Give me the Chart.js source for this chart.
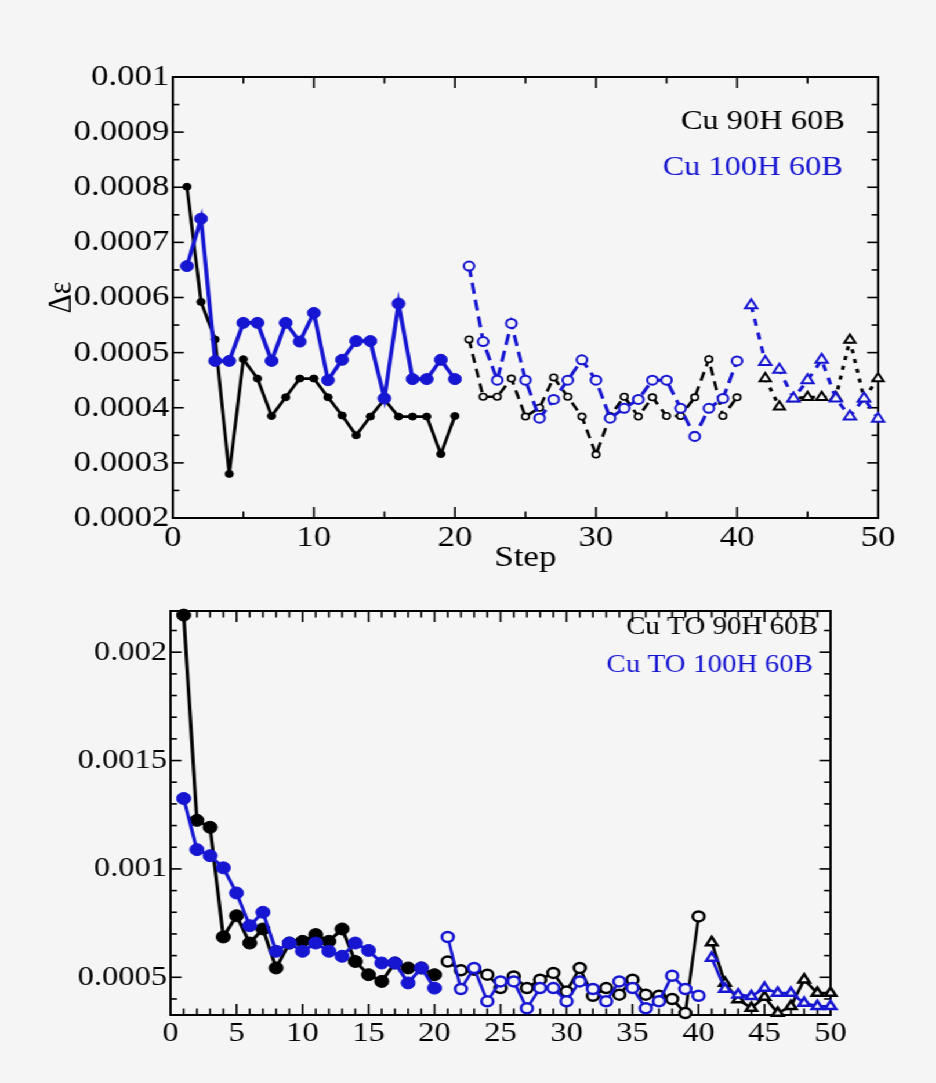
<!DOCTYPE html>
<html><head><meta charset="utf-8">
<script src="https://cdn.jsdelivr.net/npm/chart.js@4.4.1/dist/chart.umd.min.js"></script>
<style>
html,body{margin:0;padding:0;background:#f5f5f5;width:936px;height:1083px;overflow:hidden;}
#wrap{position:absolute;left:0;top:0;width:807px;height:1083px;transform:scaleX(1.16);transform-origin:0 0;}
#c1{position:absolute;left:0;top:0;}
#c2{position:absolute;left:0;top:585px;}
</style></head><body>
<div id="wrap"><canvas id="c1" width="807" height="585"></canvas><canvas id="c2" width="807" height="498"></canvas></div>
<script>
// ---------- data ----------
const stepsSolid = [1,2,3,4,5,6,7,8,9,10,11,12,13,14,15,16,17,18,19,20];
const stepsOpen  = [21,22,23,24,25,26,27,28,29,30,31,32,33,34,35,36,37,38,39,40];
const stepsTri   = [41,42,43,44,45,46,47,48,49,50];
const stepsTriTopBlack = [42,43,44,45,46,47,48,49,50];

// top chart: Cu 90H 60B (black), Cu 100H 60B (blue)
const topBlackSolid = [0.000801,0.000592,0.000524,0.00028,0.000488,0.000453,0.000385,0.000419,0.000453,0.000453,0.000419,0.000386,0.00035,0.000384,0.000415,0.000384,0.000384,0.000384,0.000316,0.000385];
const topBlueSolid  = [0.000657,0.000743,0.000485,0.000485,0.000554,0.000554,0.000485,0.000554,0.00052,0.000572,0.00045,0.000487,0.000521,0.000521,0.000417,0.000589,0.000452,0.000452,0.000487,0.000452];
const topBlackOpen  = [0.000524,0.00042,0.00042,0.000453,0.000384,0.0004,0.000455,0.00042,0.000384,0.000315,0.000385,0.00042,0.000384,0.000419,0.000385,0.000385,0.000419,0.000488,0.000385,0.000419];
const topBlueOpen   = [0.000657,0.00052,0.00045,0.000553,0.00045,0.000381,0.000415,0.00045,0.000487,0.00045,0.000381,0.000399,0.000415,0.00045,0.00045,0.000399,0.000348,0.000399,0.000417,0.000485];
const topBlueTri    = [0.000586,0.000483,0.000469,0.000417,0.00045,0.000487,0.000417,0.000384,0.000417,0.00038];
const topBlackTri   = [0.000453,0.000402,0.000417,0.000419,0.000419,0.000419,0.000523,0.000417,0.000453];

// bottom chart: Cu TO 90H 60B (black), Cu TO 100H 60B (blue)
const botBlackSolid = [0.002171,0.001224,0.001192,0.000686,0.000784,0.000658,0.000723,0.000543,0.000658,0.000666,0.000697,0.000666,0.000723,0.000573,0.000512,0.000481,0.000566,0.000543,0.000543,0.000512];
const botBlueSolid  = [0.001325,0.001089,0.001061,0.001005,0.000889,0.000738,0.0008,0.00062,0.000658,0.00062,0.000658,0.00062,0.000597,0.000658,0.000624,0.000566,0.000566,0.000474,0.000543,0.00045];
const botBlackOpen  = [0.000573,0.000532,0.000535,0.000512,0.00045,0.000504,0.00045,0.000489,0.00052,0.000435,0.000543,0.000415,0.00045,0.00042,0.000489,0.00042,0.000415,0.0004,0.000335,0.000781];
const botBlueOpen   = [0.000686,0.000446,0.000543,0.000389,0.000481,0.000481,0.000357,0.00045,0.00045,0.000389,0.000481,0.000446,0.000389,0.000481,0.00045,0.000357,0.000389,0.000507,0.000446,0.000415];
const botBlackTri   = [0.000661,0.000474,0.000397,0.000358,0.000409,0.000335,0.000366,0.000489,0.000427,0.000427];
const botBlueTri    = [0.000589,0.000446,0.00042,0.000412,0.00045,0.000427,0.000427,0.000381,0.000366,0.000366];

// ticks
const topXTicks = [0,10,20,30,40,50];
const topXTickLabels = ['0','10','20','30','40','50'];
const topYTicks = [0.0002,0.0003,0.0004,0.0005,0.0006,0.0007,0.0008,0.0009,0.001];
const topYTickLabels = ['0.0002','0.0003','0.0004','0.0005','0.0006','0.0007','0.0008','0.0009','0.001'];
const botXTicks = [0,5,10,15,20,25,30,35,40,45,50];
const botXTickLabels = ['0','5','10','15','20','25','30','35','40','45','50'];
const botYTicks = [0.0005,0.001,0.0015,0.002];
const botYTickLabels = ['0.0005','0.001','0.0015','0.002'];

const topLegend = ['Cu 90H 60B','Cu 100H 60B'];
const botLegend = ['Cu TO 90H 60B','Cu TO 100H 60B'];

// ---------- styling ----------
const SX = 1.16;
const BLUE = '#1616d2', BLACK = '#000000', BG = '#f5f5f5';
const SERIF = '"Liberation Serif","Times New Roman",serif';

function series(xs, ys, o) {
  return {
    data: xs.map((x,i)=>({x:x, y:ys[i]})),
    borderColor:o.c, backgroundColor:o.bg, pointBackgroundColor:o.bg, pointBorderColor:o.c,
    pointRadius:o.r, pointHoverRadius:o.r, pointBorderWidth:o.pbw, pointStyle:o.ps||'circle',
    borderWidth:o.w, borderDash:o.dash||[], tension:0, clip:false, fill:false
  };
}

function range(a,b,s){const r=[];for(let v=a;v<=b+1e-12;v+=s)r.push(+v.toFixed(6));return r;}

const framePlugin = {
  id:'frame',
  beforeDatasetsDraw(chart){
    const o = chart.options.plugins.frame;
    const {ctx, chartArea:a} = chart; const x=chart.scales.x, y=chart.scales.y;
    ctx.save();
    ctx.strokeStyle='#000'; ctx.lineCap='butt';
    ctx.lineWidth=1.6;
    const ln=(x1,y1,x2,y2)=>{ctx.beginPath();ctx.moveTo(x1,y1);ctx.lineTo(x2,y2);ctx.stroke();};
    o.xMajor.forEach(v=>{const p=x.getPixelForValue(v);ln(p,a.bottom,p,a.bottom-11);ln(p,a.top,p,a.top+11);});
    o.xMinor.forEach(v=>{const p=x.getPixelForValue(v);ln(p,a.bottom,p,a.bottom-6.5);ln(p,a.top,p,a.top+6.5);});
    o.yMajor.forEach(v=>{const p=y.getPixelForValue(v);ln(a.left,p,a.left+11/SX,p);ln(a.right,p,a.right-11/SX,p);});
    o.yMinor.forEach(v=>{const p=y.getPixelForValue(v);ln(a.left,p,a.left+6.5/SX,p);ln(a.right,p,a.right-6.5/SX,p);});
    ctx.lineWidth=2;
    ctx.strokeRect(a.left,a.top,a.right-a.left,a.bottom-a.top);
    ctx.restore();
  },
  afterDraw(chart){
    const o = chart.options.plugins.frame;
    const ctx = chart.ctx;
    ctx.save();
    ctx.font = o.legendSize+'px '+SERIF;
    ctx.textAlign='right'; ctx.textBaseline='middle';
    o.legend.forEach((t,i)=>{ctx.fillStyle=i===0?BLACK:BLUE; ctx.fillText(t,o.legendX[i],o.legendY[i]);});
    ctx.restore();
  }
};

function axisX(ticks, labels, size, h, title){
  return {type:'linear', min:0, max:50,
    afterFit(s){s.height=h;},
    afterBuildTicks(s){s.ticks=ticks.map(v=>({value:v}));},
    grid:{display:false, drawTicks:false}, border:{display:false},
    ticks:{autoSkip:false, maxRotation:0, padding:2, color:'#000', font:{family:SERIF,size:size}, callback:(v,i)=>labels[i]},
    title:title||{display:false}};
}
function axisY(min,max,ticks,labels,size,w,title){
  return {type:'linear', min:min, max:max,
    afterFit(s){s.width=w;},
    afterBuildTicks(s){s.ticks=ticks.map(v=>({value:v}));},
    grid:{display:false, drawTicks:false}, border:{display:false},
    ticks:{autoSkip:false, padding:3, color:'#000', font:{family:SERIF,size:size}, callback:(v,i)=>labels[i]},
    title:title||{display:false}};
}

// ---------- top chart ----------
new Chart(document.getElementById('c1'), {
  type:'line',
  data:{datasets:[
    series(stepsSolid, topBlueSolid, {c:BLUE,bg:BLUE,r:5.5,pbw:1,w:3.5}),
    series(stepsSolid, topBlackSolid,{c:BLACK,bg:BLACK,r:3.5,pbw:1,w:2.8}),
    series(stepsOpen, topBlueOpen,  {c:BLUE,bg:BG,r:4.5,pbw:2,w:3,dash:[11,6]}),
    series(stepsOpen, topBlackOpen, {c:BLACK,bg:BG,r:3.2,pbw:1.6,w:2.6,dash:[9,6]}),
    series(stepsTri, topBlueTri,    {c:BLUE,bg:BG,r:6,pbw:2,w:3,dash:[7,7],ps:'triangle'}),
    series(stepsTriTopBlack, topBlackTri,{c:BLACK,bg:BG,r:5.5,pbw:2,w:3,dash:[4,6],ps:'triangle'})
  ]},
  options:{
    responsive:false, animation:false, devicePixelRatio:1, events:[],
    layout:{padding:{left:0,top:77,right:50,bottom:7}},
    plugins:{legend:{display:false}, tooltip:{enabled:false},
      frame:{xMajor:topXTicks, xMinor:[5,15,25,35,45], yMajor:topYTicks, yMinor:range(0.00025,0.00095,0.0001),
        legend:topLegend, legendX:[845/SX,843/SX], legendY:[122,168], legendSize:28}},
    scales:{
      x:axisX(topXTicks, topXTickLabels, 30, 60, {display:true,text:'Step',color:'#000',font:{family:SERIF,size:30},padding:{top:0,bottom:2}}),
      y:axisY(0.0002,0.001,topYTicks,topYTickLabels,30,149,{display:true,text:'Δε',color:'#000',font:{family:SERIF,size:30},padding:{top:35,bottom:0}})
    }
  },
  plugins:[framePlugin]
});

// ---------- bottom chart ----------
new Chart(document.getElementById('c2'), {
  type:'line',
  data:{datasets:[
    series(stepsSolid, botBlueSolid, {c:BLUE,bg:BLUE,r:6,pbw:1,w:3}),
    series(stepsSolid, botBlackSolid,{c:BLACK,bg:BLACK,r:6,pbw:1,w:3}),
    series(stepsOpen, botBlueOpen,  {c:BLUE,bg:BG,r:5,pbw:2.5,w:2.6}),
    series(stepsOpen, botBlackOpen, {c:BLACK,bg:BG,r:5,pbw:2.5,w:2.6}),
    series(stepsTri, botBlueTri,    {c:BLUE,bg:BG,r:5.5,pbw:2.5,w:2.6,ps:'triangle'}),
    series(stepsTri, botBlackTri,   {c:BLACK,bg:BG,r:5.5,pbw:2.5,w:2.6,ps:'triangle'})
  ]},
  options:{
    responsive:false, animation:false, devicePixelRatio:1, events:[],
    layout:{padding:{left:0,top:26,right:91,bottom:18}},
    plugins:{legend:{display:false}, tooltip:{enabled:false},
      frame:{xMajor:botXTicks, xMinor:range(1,49,1).filter(v=>v%5!==0), yMajor:botYTicks, yMinor:range(0.0004,0.0021,0.0001).filter(v=>Math.round(v*1e4)%5!==0),
        legend:botLegend, legendX:[818/SX,813/SX], legendY:[42,80], legendSize:25}},
    scales:{
      x:axisX(botXTicks, botXTickLabels, 28, 50),
      y:axisY(0.000326,0.00219,botYTicks,botYTickLabels,28,147)
    }
  },
  plugins:[framePlugin]
});
</script>
</body></html>
